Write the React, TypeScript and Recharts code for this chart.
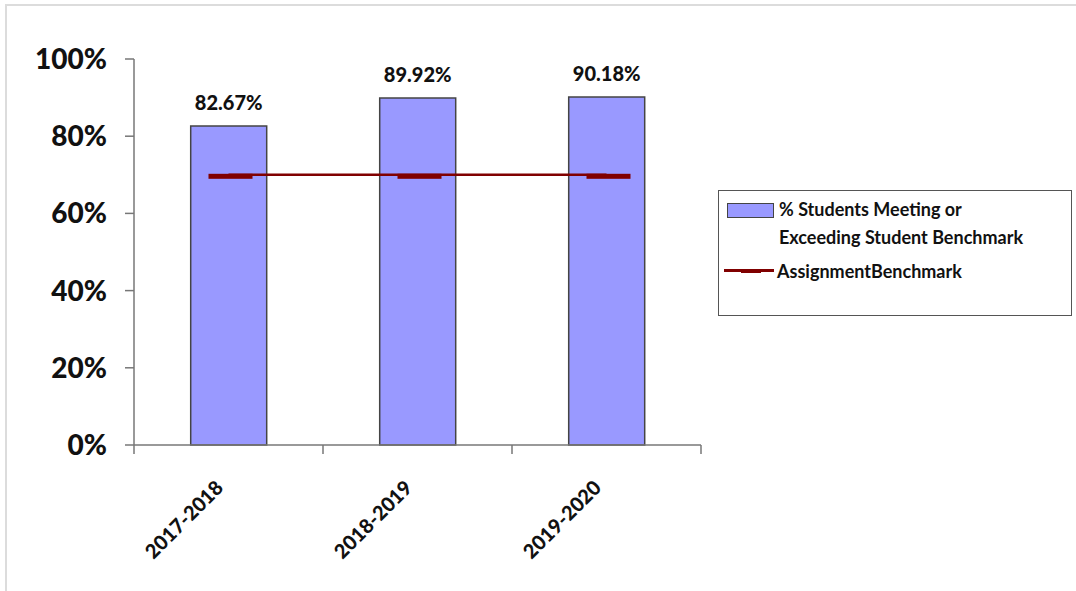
import React from "react";
import { Bar, ComposedChart, LabelList, Line, XAxis, YAxis } from "recharts";

const YEARS = ["2017-2018", "2018-2019", "2019-2020"];
const MEETING = [82.67, 89.92, 90.18];
const BENCHMARK = [70, 70, 70];
const Y_TICKS = [0, 20, 40, 60, 80, 100];

const BAR_FILL = "#9999ff";
const LINE_RED = "#800000";
const AXIS_GRAY = "#777";
const FONT = "Lato, 'Open Sans', sans-serif";

const data = YEARS.map((year, i) => ({ year, meeting: MEETING[i], benchmark: BENCHMARK[i] }));

// the axis sits tickSize + tickMargin above the tick's y
const TICK_GAP = 8;

// category label rotated -45deg plus the Excel-style tick marks at band edges
function YearTick(props: any) {
  const { x, y, payload, index } = props;
  const half = payload?.offset ?? 0;
  const last = index === YEARS.length - 1;
  const axisY = y - TICK_GAP;
  const tx = x - 4;
  const ty = y + 36;
  return (
    <g>
      <line x1={x - half} x2={x - half} y1={axisY} y2={axisY + 9} stroke={AXIS_GRAY} strokeWidth={1.5} />
      {last && <line x1={x + half} x2={x + half} y1={axisY} y2={axisY + 9} stroke={AXIS_GRAY} strokeWidth={1.5} />}
      <text
        x={tx}
        y={ty}
        transform={`rotate(-45, ${tx}, ${ty})`}
        textAnchor="end"
        fontFamily={FONT}
        fontWeight={900}
        fontSize={20}
        fill="#111"
      >
        {payload.value}
      </text>
    </g>
  );
}

function DashDot(props: any) {
  const { cx, cy } = props;
  if (cx == null || cy == null) return null;
  return <rect x={cx - 20} y={cy - 1} width={44} height={5} fill={LINE_RED} />;
}

function LegendBox() {
  const txt = { fontFamily: FONT, fontWeight: 700, fontSize: 18, color: "#111", lineHeight: "28px" } as const;
  return (
    <div
      style={{
        position: "absolute",
        left: 718,
        top: 190,
        width: 352,
        height: 124,
        border: "1.5px solid #555",
        background: "#fff",
      }}
    >
      <div style={{ position: "absolute", left: 8, top: 12, width: 45, height: 13, background: BAR_FILL, border: "1.5px solid #444" }} />
      <div style={{ ...txt, position: "absolute", left: 60, top: 4 }}>
        % Students Meeting or
        <br />
        Exceeding Student Benchmark
      </div>
      <div style={{ position: "absolute", left: 5, top: 78, width: 50, height: 3, background: LINE_RED }} />
      <div style={{ position: "absolute", left: 22, top: 79, width: 20, height: 3, background: LINE_RED }} />
      <div style={{ ...txt, position: "absolute", left: 58, top: 66 }}>AssignmentBenchmark</div>
    </div>
  );
}

export default function App() {
  return (
    <div style={{ position: "absolute", left: 0, top: 0, width: 1076, height: 591, background: "#fff", overflow: "hidden" }}>
      <div style={{ position: "absolute", left: 5, top: 4, width: 1071, height: 587, borderTop: "2px solid #dcdcdc", borderLeft: "2px solid #dcdcdc" }} />
      <div style={{ position: "absolute", left: 0, top: 0 }}>
        <ComposedChart width={1076} height={591} data={data} margin={{ top: 59, right: 375, left: 0, bottom: 86 }} barCategoryGap="30%">
          <XAxis
            dataKey="year"
            height={60}
            tickLine={false}
            axisLine={{ stroke: AXIS_GRAY, strokeWidth: 1.5 }}
            tick={<YearTick />}
            interval={0}
          />
          <YAxis
            width={134}
            domain={[0, 100]}
            ticks={Y_TICKS}
            tickFormatter={(v) => `${v}%`}
            tickSize={9}
            tickMargin={18}
            axisLine={{ stroke: AXIS_GRAY, strokeWidth: 1.5 }}
            tickLine={{ stroke: AXIS_GRAY, strokeWidth: 1.5 }}
            tick={{ fontFamily: FONT, fontWeight: 900, fontSize: 28, fill: "#111" }}
          />
          <Bar dataKey="meeting" fill={BAR_FILL} stroke="#444" strokeWidth={1.5} isAnimationActive={false}>
            <LabelList
              dataKey="meeting"
              position="top"
              offset={16}
              formatter={(v: any) => `${Number(v).toFixed(2)}%`}
              style={{ fontFamily: FONT, fontWeight: 900, fontSize: 20, fill: "#111" }}
            />
          </Bar>
          <Line dataKey="benchmark" stroke={LINE_RED} strokeWidth={2.5} dot={<DashDot />} activeDot={false} isAnimationActive={false} />
        </ComposedChart>
      </div>
      <LegendBox />
    </div>
  );
}
